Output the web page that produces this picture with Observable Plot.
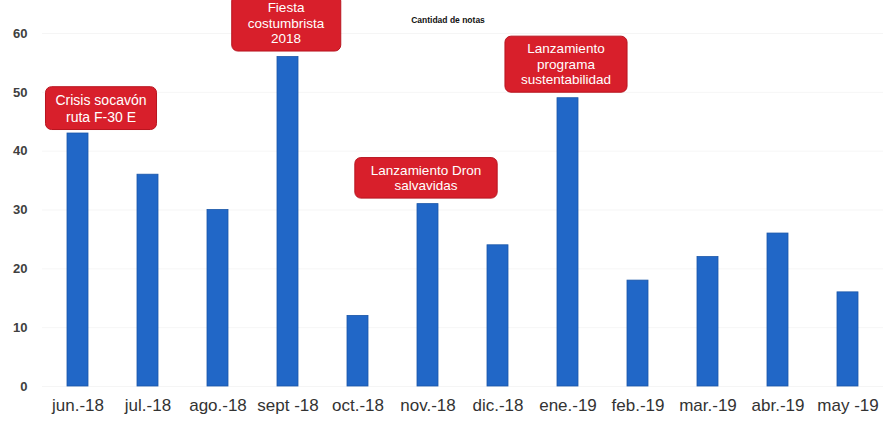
<!DOCTYPE html>
<html>
<head>
<meta charset="utf-8">
<script src="https://cdn.jsdelivr.net/npm/d3@7"></script>
<script src="https://cdn.jsdelivr.net/npm/@observablehq/plot@0.6"></script>
<style>
  html, body { margin: 0; padding: 0; background: #fff; }
  #chart svg { display: block; font-family: "Liberation Sans", Arial, sans-serif; }
</style>
</head>
<body>
<div id="chart"></div>
<script>
const months = ["jun.-18", "jul.-18", "ago.-18", "sept -18", "oct.-18", "nov.-18", "dic.-18", "ene.-19", "feb.-19", "mar.-19", "abr.-19", "may -19"];
const notas = [43, 36, 30, 56, 12, 31, 24, 49, 18, 22, 26, 16];
const yTicks = [0, 10, 20, 30, 40, 50, 60];
const chartTitle = "Cantidad de notas";
const annotMonths = ["jun.-18", "sept -18", "nov.-18", "ene.-19"];
const annotTexts = ["Crisis socavón\nruta F-30 E", "Fiesta\ncostumbrista\n2018", "Lanzamiento Dron\nsalvavidas", "Lanzamiento\nprograma\nsustentabilidad"];

const data = months.map((m, i) => ({month: m, value: notas[i]}));
const annots = annotMonths.map((m, i) => ({month: m, value: notas[months.indexOf(m)], label: annotTexts[i]}));

const plot = Plot.plot({
  width: 883,
  height: 421,
  marginLeft: 42,
  marginRight: 0,
  marginTop: 33,
  marginBottom: 35,
  style: {fontFamily: "'Liberation Sans', Arial, sans-serif", background: "#fff"},
  x: {domain: months, paddingInner: 0.7, paddingOuter: 0.35, label: null},
  y: {domain: [0, 60], label: null},
  marks: [
    Plot.gridY(yTicks, {stroke: "#000", strokeOpacity: 0.04}),
    Plot.barY(data, {x: "month", y: "value", fill: "#2167c7", stroke: "#1a56a8", strokeWidth: 0.8}),
    Plot.axisX({tickSize: 0, tickPadding: 12, fontSize: 17, fill: "#333"}),
    Plot.axisY(yTicks, {tickSize: 0, tickPadding: 15, fontSize: 13, fontWeight: "bold", fill: "#404040"}),
    Plot.text([chartTitle], {frameAnchor: "top", dy: -17, dx: -15, fontSize: 8.5, fontWeight: "bold", fill: "#111"}),
    Plot.text(annots.slice(0, 1), {x: "month", y: "value", text: "label", lineAnchor: "bottom", dy: -12, dx: 23, fontSize: 14, lineHeight: 1.2, fill: "#fff", className: "annotA"}),
    Plot.text(annots.slice(1), {x: "month", y: "value", text: "label", lineAnchor: "bottom", dy: -14, dx: -2, fontSize: 13.5, lineHeight: 1.15, fill: "#fff", className: "annotB"})
  ]
});
document.getElementById("chart").appendChild(plot);

// red rounded boxes behind annotation texts
function boxes(selector, padX, padY) {
  plot.querySelectorAll(selector + " text").forEach(t => {
    const b = t.getBBox();
    const r = document.createElementNS("http://www.w3.org/2000/svg", "rect");
    r.setAttribute("x", b.x - padX);
    r.setAttribute("y", b.y - padY);
    r.setAttribute("width", b.width + 2 * padX);
    r.setAttribute("height", b.height + 2 * padY);
    r.setAttribute("rx", 6);
    r.setAttribute("fill", "#d81f2b");
    r.setAttribute("stroke", "#b8141f");
    r.setAttribute("stroke-width", 1);
    const tr = t.getAttribute("transform");
    if (tr) r.setAttribute("transform", tr);
    t.parentNode.insertBefore(r, t);
  });
}
boxes("g.annotA", 10, 5);
boxes("g.annotB", 16, 5);
</script>
</body>
</html>
